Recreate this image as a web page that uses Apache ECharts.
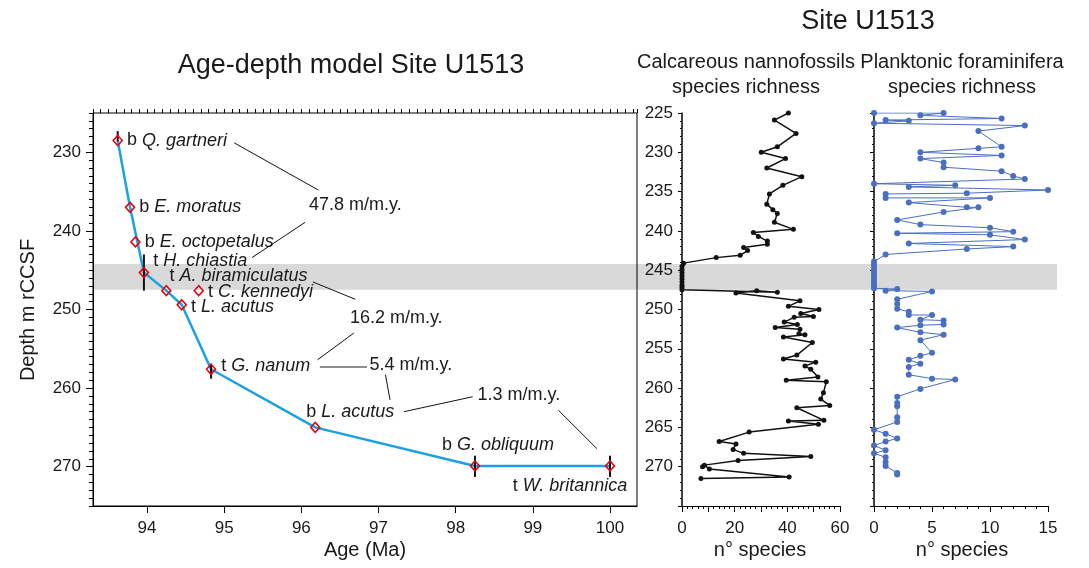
<!DOCTYPE html>
<html><head><meta charset="utf-8">
<script src="https://cdn.jsdelivr.net/npm/echarts@6/dist/echarts.min.js"></script>
<style>html,body{margin:0;padding:0;background:#fff}#c{width:1089px;height:568px}</style>
</head><body><div id="c"></div>
<script>
// ---------- Age-depth model ----------
const eventPrefix = ['b','b','b','t','t','t','t','t','b','b','t'];
const eventTaxon = ['Q. gartneri','E. moratus','E. octopetalus','H. chiastia','A. biramiculatus','C. kennedyi','L. acutus','G. nanum','L. acutus','G. obliquum','W. britannica'];
const eventAge = [93.62,93.78,93.85,93.96,94.25,94.67,94.45,94.83,96.18,98.25,100.0];
const eventDepth = [228.5,237.0,241.4,245.3,247.6,247.6,249.4,257.6,265.0,269.9,269.9];
const modelPath = [0,1,3,4,6,7,8,9,10];

const errAge = [93.62,93.96,94.83,98.25,100.0];
const errTop = [227.3,243.0,256.9,268.6,268.6];
const errBottom = [228.6,247.6,258.8,271.3,271.3];

const rateText = ['47.8 m/m.y.','16.2 m/m.y.','5.4 m/m.y.','1.3 m/m.y.'];
const rateAge = [96.70,97.23,97.42,98.82];
const rateDepth = [236.7,251.1,257.1,260.9];

const leaderAge1 = [95.13,96.05,96.15,96.68,96.24,97.09,97.33,99.33];
const leaderDepth1 = [228.8,238.9,246.5,253.0,257.25,258.3,263.0,262.8];
const leaderAge2 = [96.22,95.36,96.70,96.21,96.85,97.15,98.22,99.83];
const leaderDepth2 = [234.8,243.4,248.7,256.4,257.25,261.5,261.1,267.7];

const gapDepth = [244.2,247.5];

// ---------- Species richness ----------
const nannoDepth = [225.0,225.9,227.6,229.3,230.0,230.8,232.0,233.1,234.2,235.3,236.6,237.3,237.8,238.9,239.8,240.2,240.7,241.3,241.7,242.1,242.5,243.1,243.4,244.1,244.5,244.9,245.3,245.7,246.1,246.5,246.9,247.2,247.5,247.8,247.6,247.9,248.9,249.6,250.0,250.5,250.9,251.0,251.6,251.9,252.3,252.5,253.1,253.2,253.5,254.2,255.8,256.3,256.7,257.2,257.6,258.6,259.0,259.2,260.6,261.4,262.2,262.5,264.1,264.2,264.6,265.6,266.8,267.1,267.8,268.3,268.7,269.2,269.8,270.0,270.3,271.3,271.5];
const nannoCount = [40.4,35.1,43.3,36.2,30.1,39.3,32.2,45.5,38.3,33.2,32.2,34.5,36.2,35.1,42.3,27.1,29.0,32.4,32.4,23.4,24.9,22.1,13.0,0.6,0,0,0,0,0,0,0,0,0,36.2,28.4,20.5,44.8,40.4,52.0,45.1,49.9,42.6,38.8,43.8,35.4,44.8,44.4,46.7,38.5,49.5,43.6,38.5,50.8,46.7,48.9,51.6,39.6,54.8,53.7,52.7,56.1,43.6,53.9,40.4,51.8,25.5,14.1,20.5,19.4,23.4,48.9,21.3,8.5,7.8,10.4,40.7,7.2];

const foramDepth = [225.0,225.0,225.3,225.7,225.9,226.0,226.3,226.6,227.3,229.3,229.5,230.0,230.4,230.8,231.3,231.9,232.4,233.0,233.4,234.0,234.2,234.4,234.8,235.2,235.3,235.8,235.8,236.4,237.0,237.0,237.6,238.6,239.2,239.6,240.1,240.3,240.5,241.1,241.6,242.0,242.3,243.0,243.9,244.3,244.7,245.1,245.5,245.9,246.3,246.7,247.0,247.3,247.4,247.6,247.7,248.7,249.3,249.9,250.3,250.7,250.7,251.3,251.4,251.9,252.0,252.3,252.9,253.2,253.9,255.5,255.9,256.4,256.9,257.3,258.3,258.8,258.9,260.1,261.1,261.9,262.3,263.7,264.3,265.3,265.8,266.4,266.8,267.3,267.9,268.3,268.8,269.4,269.9,270.8,271.0];
const foramCount = [0,6,4,11,1,3,0,13,9,11,9,4,11,4,6,6,11,12,13,0,7,3,15,8,1,1,10,3,8,9,6,2,4,10,12,2,10,13,3,12,8,1,0,0,0,0,0,0,0,0,0,0,2,1,5,2,2,2,3,3,5,4,6,6,4,2,4,6,4,5,4,3,4,3,3,5,7,4,2,2,2,2,2,0,1,2,1,0,1,0,1,1,1,2,2];

// ---------- styles ----------
const FONT = '"Liberation Sans", Arial, Helvetica, sans-serif';
const INK = '#1a1a1a';
const eventLabelLayout = [
  {position:'right', distance:4, offset:[0,0]},
  {position:'right', distance:4, offset:[0,0]},
  {position:'right', distance:4, offset:[0,0]},
  {position:'right', distance:4, offset:[0,-12]},
  {position:'right', distance:4, offset:[-6,-15]},
  {position:'right', distance:4, offset:[0,1]},
  {position:'right', distance:4, offset:[0,2]},
  {position:'right', distance:5, offset:[0,-3]},
  {position:'top', distance:5, offset:[35,4]},
  {position:'top', distance:5, offset:[23,-1]},
  {position:'bottom', distance:5, offset:[-40,0]}
];

const chart = echarts.init(document.getElementById('c'), null, {renderer:'canvas'});
const G = {top:113, height:393};
const tickFont = {fontFamily:FONT, fontSize:17, color:INK};

const eventData = eventAge.map((a,i)=>({
  value:[a, eventDepth[i]],
  label:Object.assign({show:true, formatter:'{n|'+eventPrefix[i]+' }{i|'+eventTaxon[i]+'}'}, eventLabelLayout[i])
}));

const option = {
  animation:false,
  backgroundColor:'#fff',
  grid:[
    {left:93, top:G.top, width:544, height:G.height, show:true, borderColor:'#000', borderWidth:1, backgroundColor:'transparent'},
    {left:682, top:G.top, width:158, height:G.height},
    {left:874, top:G.top, width:174, height:G.height}
  ],
  xAxis:[
    {type:'value', gridIndex:0, min:93.3, max:100.35, splitNumber:7, splitLine:{show:false},
     axisLine:{lineStyle:{color:'#000', width:1}}, axisTick:{length:7, lineStyle:{color:'#000'}},
     axisLabel:Object.assign({margin:14, showMinLabel:false, showMaxLabel:false, formatter:v=>Math.abs(v-Math.round(v))<1e-6?String(Math.round(v)):''}, tickFont)},
    {type:'value', gridIndex:0, min:93.3, max:100.35, interval:0.1, splitLine:{show:false},
     axisLine:{show:false}, axisTick:{length:4, lineStyle:{color:'#000'}}, axisLabel:{show:false}},
    {type:'value', gridIndex:1, min:0, max:60, interval:10, splitLine:{show:false},
     axisLine:{lineStyle:{color:'#000'}}, axisTick:{length:6, lineStyle:{color:'#000'}},
     minorTick:{show:true, splitNumber:5, length:3, lineStyle:{color:'#000'}},
     axisLabel:Object.assign({margin:14, formatter:v=>v%20===0?String(v):''}, tickFont)},
    {type:'value', gridIndex:2, min:0, max:15, interval:5, splitLine:{show:false},
     axisLine:{lineStyle:{color:'#000'}}, axisTick:{length:6, lineStyle:{color:'#000'}},
     minorTick:{show:true, splitNumber:5, length:3, lineStyle:{color:'#000'}},
     axisLabel:Object.assign({margin:14}, tickFont)}
  ],
  yAxis:[
    {type:'value', gridIndex:0, inverse:true, min:225, max:275, splitNumber:5, splitLine:{show:false},
     axisLine:{lineStyle:{color:'#000'}}, axisTick:{length:7, lineStyle:{color:'#000'}},
     axisLabel:Object.assign({margin:12, showMinLabel:false, showMaxLabel:false, formatter:v=>v%10===0?String(v):''}, tickFont)},
    {type:'value', gridIndex:0, inverse:true, min:225, max:275, interval:1, position:'left', splitLine:{show:false},
     axisLine:{show:false}, axisTick:{length:4, lineStyle:{color:'#000'}}, axisLabel:{show:false}},
    {type:'value', gridIndex:1, inverse:true, min:225, max:275, interval:5, splitLine:{show:false},
     axisLine:{lineStyle:{color:'#000', width:1.5}}, axisTick:{length:4, lineStyle:{color:'#000'}},
     minorTick:{show:true, splitNumber:5, length:2, lineStyle:{color:'#000'}},
     axisLabel:Object.assign({margin:9, showMaxLabel:false, formatter:v=>v<275?String(v):''}, tickFont)},
    {type:'value', gridIndex:2, inverse:true, min:225, max:275, interval:5, splitLine:{show:false},
     axisLine:{lineStyle:{color:'#000', width:1.5}}, axisTick:{length:4, lineStyle:{color:'#000'}},
     minorTick:{show:true, splitNumber:5, length:2, lineStyle:{color:'#000'}},
     axisLabel:{show:false}}
  ],
  series:[
    {type:'line', xAxisIndex:0, yAxisIndex:0, z:2, symbol:'none',
     data:modelPath.map(i=>[eventAge[i], eventDepth[i]]),
     lineStyle:{color:'#1ba1e2', width:2.5},
     markLine:{silent:true, symbol:['none','none'], label:{show:false},
       data:leaderAge1.map((a,i)=>[
         {coord:[a, leaderDepth1[i]], lineStyle:{color:i===4?'#666':'#111', width:i===4?1.5:1, type:'solid'}},
         {coord:[leaderAge2[i], leaderDepth2[i]]}
       ])}
    },
    {type:'custom', xAxisIndex:0, yAxisIndex:0, z:3,
     data:errAge.map((a,i)=>[a, errTop[i], errBottom[i]]),
     encode:{x:0, y:[1,2]},
     renderItem:(params, api)=>{
       const p1 = api.coord([api.value(0), api.value(1)]);
       const p2 = api.coord([api.value(0), api.value(2)]);
       return {type:'line', shape:{x1:p1[0], y1:p1[1], x2:p2[0], y2:p2[1]}, style:{stroke:'#111', lineWidth:2}};
     }},
    {type:'scatter', xAxisIndex:0, yAxisIndex:0, z:4, symbol:'diamond', symbolSize:[9,10],
     itemStyle:{color:'rgba(255,255,255,0)', borderColor:'#e30613', borderWidth:1.6, opacity:1},
     label:{color:INK, opacity:1, fontFamily:FONT, fontSize:18,
       rich:{n:{fontFamily:FONT, fontSize:18, color:INK}, i:{fontFamily:FONT, fontSize:18, fontStyle:'italic', color:INK}}},
     data:eventData},
    {type:'scatter', xAxisIndex:0, yAxisIndex:0, z:4, symbolSize:0, silent:true,
     itemStyle:{opacity:1},
     data:rateAge.map((a,i)=>({value:[a, rateDepth[i]], label:{show:true, position:'inside', formatter:rateText[i]}})),
     label:{color:INK, opacity:1, fontFamily:FONT, fontSize:18}},
    {type:'line', xAxisIndex:2, yAxisIndex:2, z:3, symbol:'circle', symbolSize:5,
     data:nannoCount.map((v,i)=>[v, nannoDepth[i]]),
     lineStyle:{color:'#111', width:1.5}, itemStyle:{color:'#111'}},
    {type:'line', xAxisIndex:3, yAxisIndex:3, z:3, symbol:'circle', symbolSize:6,
     data:foramCount.map((v,i)=>[v, foramDepth[i]]),
     lineStyle:{color:'#4a6fbf', width:1}, itemStyle:{color:'#4a6fbf'}}
  ]
};
chart.setOption(option);

const yTop = chart.convertToPixel({yAxisIndex:0}, gapDepth[0]);
const yBot = chart.convertToPixel({yAxisIndex:0}, gapDepth[1]);
const txt = (x, y, text, size, extra) => Object.assign({type:'text', x, y, silent:true,
  style:{text, fill:INK, font:size+'px '+FONT, align:'center', verticalAlign:'middle'}}, extra||{});
chart.setOption({graphic:[
  {type:'rect', z:-10, silent:true, shape:{x:93, y:yTop, width:1057-93, height:yBot-yTop}, style:{fill:'#d9d9d9'}},
  txt(351, 66, 'Age-depth model Site U1513', 27),
  txt(868, 22, 'Site U1513', 27),
  txt(746, 62, 'Calcareous nannofossils', 20),
  txt(746, 87, 'species richness', 20),
  txt(962, 62, 'Planktonic foraminifera', 20),
  txt(962, 87, 'species richness', 20),
  txt(28, 310, 'Depth m rCCSF', 20, {rotation:Math.PI/2}),
  txt(365, 550, 'Age (Ma)', 20),
  txt(760, 550, 'n° species', 20),
  txt(962, 550, 'n° species', 20)
]});
</script>
</body></html>
